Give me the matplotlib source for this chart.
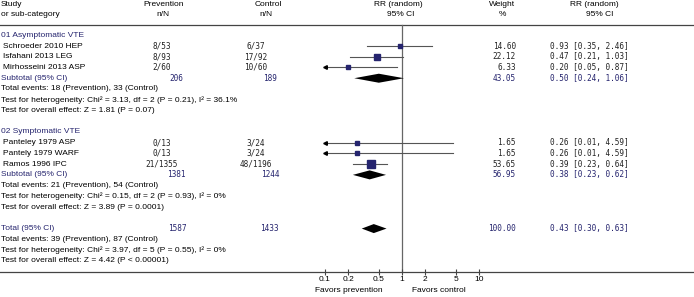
import numpy as np
import matplotlib
matplotlib.use("Agg")
import matplotlib.pyplot as plt

# study-level data
studies = ["Schroeder 2010 HEP", "Isfahani 2013 LEG", "Mirhosseini 2013 ASP",
           "Panteley 1979 ASP", "Pantely 1979 WARF", "Ramos 1996 IPC"]
study_group = [0, 0, 0, 1, 1, 1]
prev_events = [8, 8, 2, 0, 0, 21]
prev_total = [53, 93, 60, 13, 13, 1355]
ctrl_events = [6, 17, 10, 3, 3, 48]
ctrl_total = [37, 92, 60, 24, 24, 1196]
weights = [14.60, 22.12, 6.33, 1.65, 1.65, 53.65]
rr = [0.93, 0.47, 0.20, 0.26, 0.26, 0.39]
rr_lo = [0.35, 0.21, 0.05, 0.01, 0.01, 0.23]
rr_hi = [2.46, 1.03, 0.87, 4.59, 4.59, 0.64]

# subgroup data
groups = ["01 Asymptomatic VTE", "02 Symptomatic VTE"]
grp_prev_total = [206, 1381]
grp_ctrl_total = [189, 1244]
grp_events = ["Total events: 18 (Prevention), 33 (Control)",
              "Total events: 21 (Prevention), 54 (Control)"]
grp_het = ["Test for heterogeneity: Chi\u00b2 = 3.13, df = 2 (P = 0.21), I\u00b2 = 36.1%",
           "Test for heterogeneity: Chi\u00b2 = 0.15, df = 2 (P = 0.93), I\u00b2 = 0%"]
grp_effect = ["Test for overall effect: Z = 1.81 (P = 0.07)",
              "Test for overall effect: Z = 3.89 (P = 0.0001)"]
grp_weight = [43.05, 56.95]
grp_rr = [0.50, 0.38]
grp_lo = [0.24, 0.23]
grp_hi = [1.06, 0.62]

# overall
tot_prev, tot_ctrl = 1587, 1433
tot_events = "Total events: 39 (Prevention), 87 (Control)"
tot_het = "Test for heterogeneity: Chi\u00b2 = 3.97, df = 5 (P = 0.55), I\u00b2 = 0%"
tot_effect = "Test for overall effect: Z = 4.42 (P < 0.00001)"
tot_weight, tot_rr, tot_lo, tot_hi = 100.00, 0.43, 0.30, 0.63

xticks = [0.1, 0.2, 0.5, 1, 2, 5, 10]
xtick_labels = ["0.1", "0.2", "0.5", "1", "2", "5", "10"]

# layout (pixels)
W, H = 694, 297
ROW0, ROWH = 46.0, 10.74       # pixel y of first study row, row height
X_ONE, DECADE = 402.0, 77.0    # pixel x of RR=1, pixels per decade
NAVY = "#25246e"
GREY = "#555555"
SANS = "Liberation Sans"
MONO = "DejaVu Sans Mono"
FS, FM = 6.0, 5.6


def r(py):
    return (py - ROW0) / ROWH


fig = plt.figure(figsize=(W / 100, H / 100), dpi=100)
tab = fig.add_axes([0, 0, 1, 1])
tab.set_xlim(0, W)
tab.set_ylim(r(H), r(0))
tab.axis("off")

ax_l, ax_r = 300, 500
ax = fig.add_axes([ax_l / W, 0, (ax_r - ax_l) / W, 1])
ax.set_xscale("log")
ax.set_xlim(10 ** ((ax_l - X_ONE) / DECADE), 10 ** ((ax_r - X_ONE) / DECADE))
ax.set_ylim(r(H), r(0))
ax.patch.set_alpha(0)
for s in ["top", "left", "right"]:
    ax.spines[s].set_visible(False)
ax.spines["bottom"].set_position(("data", r(272)))
ax.spines["bottom"].set_visible(False)
ax.set_yticks([])
ax.set_xticks(xticks)
ax.set_xticklabels(xtick_labels, fontsize=FS, family=SANS)
ax.minorticks_off()
ax.tick_params(axis="x", direction="inout", length=4, width=0.8, color="#444444", pad=1)


def txt(x, y, s, ha="left", color="black", mono=False):
    tab.text(x, y, s, ha=ha, va="center", color=color,
             fontsize=FM if mono else FS, family=MONO if mono else SANS)


# header
txt(1, r(4.5), "Study")
txt(1, r(14.5), "or sub-category")
txt(164, r(4.5), "Prevention", ha="center")
txt(163, r(14.5), "n/N", ha="center")
txt(268, r(4.5), "Control", ha="center")
txt(266, r(14.5), "n/N", ha="center")
txt(398, r(4.5), "RR (random)", ha="center")
txt(401, r(14.5), "95% CI", ha="center")
txt(502, r(4.5), "Weight", ha="center")
txt(502, r(14.5), "%", ha="center")
txt(594, r(4.5), "RR (random)", ha="center")
txt(600, r(14.5), "95% CI", ha="center")
tab.plot([0, W], [r(25), r(25)], color="#444444", lw=0.9)
tab.plot([0, W], [r(272), r(272)], color="#444444", lw=0.9)
ax.plot([1, 1], [r(25), r(272)], color="#666666", lw=0.9, zorder=1)

lo_lim, hi_lim = xticks[0], xticks[-1]


def ci_line(y, est, lo, hi, w):
    a, b = max(lo, lo_lim), min(hi, hi_lim)
    ax.plot([a, b], [y, y], color=GREY, lw=0.8, zorder=2)
    if lo < lo_lim:
        ax.plot(lo_lim, y, marker="<", ms=2.6, color="black", zorder=3)
    if hi > hi_lim:
        ax.plot(hi_lim, y, marker=">", ms=2.6, color="black", zorder=3)
    side = 3.5 + 0.085 * w  # pixels
    ax.plot(est, y, marker="s", ms=side * 0.72, color=NAVY, mec=NAVY, zorder=4)


def diamond(y, est, lo, hi):
    ax.fill([lo, est, hi, est], [y, y - 0.42, y, y + 0.42], color="black", lw=0, zorder=4)


def rr_text(y, est, lo, hi, color):
    txt(550, y, f"{est:.2f} [{lo:.2f}, {hi:.2f}]", color=color, mono=True)


row = -1
for g, gname in enumerate(groups):
    txt(1, row, gname, color=NAVY)
    row += 1
    for i in range(len(studies)):
        if study_group[i] != g:
            continue
        txt(3, row, studies[i])
        txt(162, row, f"{prev_events[i]}/{prev_total[i]}", ha="center", mono=True, color="#222222")
        txt(256, row, f"{ctrl_events[i]}/{ctrl_total[i]}", ha="center", mono=True, color="#222222")
        txt(516, row, f"{weights[i]:.2f}", ha="right", mono=True, color="#222222")
        rr_text(row, rr[i], rr_lo[i], rr_hi[i], "#222222")
        ci_line(row, rr[i], rr_lo[i], rr_hi[i], weights[i])
        row += 1
    txt(1, row, "Subtotal (95% CI)", color=NAVY)
    txt(176, row, str(grp_prev_total[g]), ha="center", mono=True, color=NAVY)
    txt(270, row, str(grp_ctrl_total[g]), ha="center", mono=True, color=NAVY)
    txt(516, row, f"{grp_weight[g]:.2f}", ha="right", mono=True, color=NAVY)
    rr_text(row, grp_rr[g], grp_lo[g], grp_hi[g], NAVY)
    diamond(row, grp_rr[g], grp_lo[g], grp_hi[g])
    row += 1
    for s in (grp_events[g], grp_het[g], grp_effect[g]):
        txt(1, row, s)
        row += 1
    row += 1

txt(1, row, "Total (95% CI)", color=NAVY)
txt(177, row, str(tot_prev), ha="center", mono=True, color=NAVY)
txt(269, row, str(tot_ctrl), ha="center", mono=True, color=NAVY)
txt(516, row, f"{tot_weight:.2f}", ha="right", mono=True, color=NAVY)
rr_text(row, tot_rr, tot_lo, tot_hi, NAVY)
diamond(row, tot_rr, tot_lo, tot_hi)
row += 1
for s in (tot_events, tot_het, tot_effect):
    txt(1, row, s)
    row += 1

txt(383, r(291), "Favors prevention", ha="right")
txt(412, r(291), "Favors control")

fig.savefig("out.png", dpi=100)
